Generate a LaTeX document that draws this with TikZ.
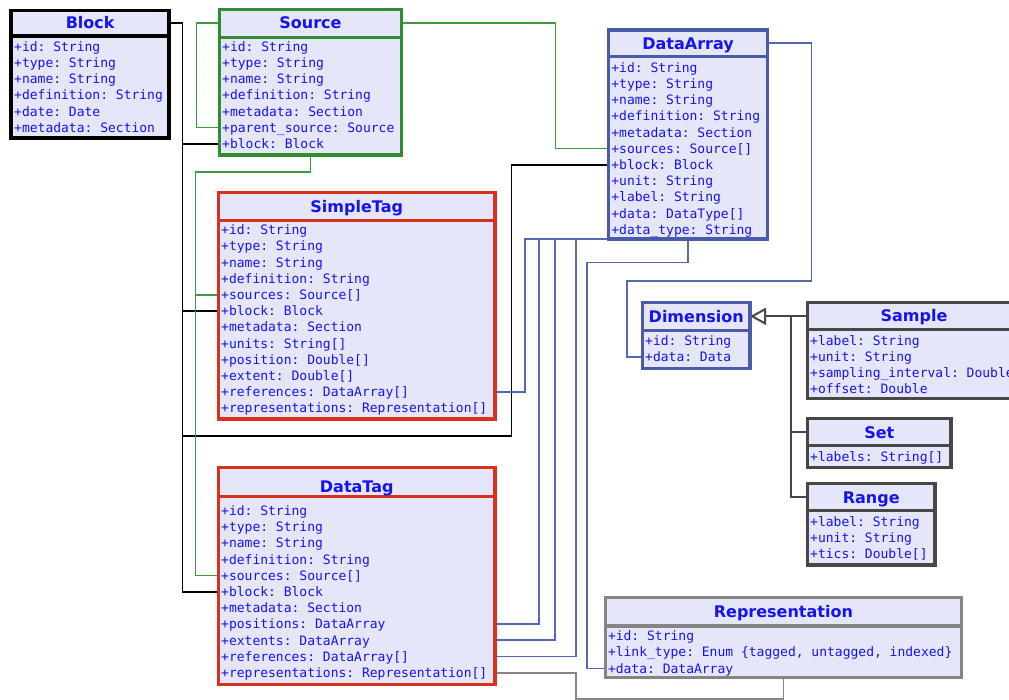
\documentclass[tikz,border=0pt]{standalone}
\usepackage{fontspec}
\setmainfont{DejaVu Sans}
\setsansfont{DejaVu Sans}
\setmonofont{DejaVu Sans Mono}
\usetikzlibrary{arrows.meta}
\usetikzlibrary{backgrounds}
\definecolor{boxfill}{HTML}{E6E6FA}
\definecolor{textblue}{HTML}{1414F0}
\definecolor{srcgreen}{HTML}{2F8F2F}
\definecolor{linkgreen}{HTML}{3C9C3C}
\definecolor{tagred}{HTML}{D9321C}
\definecolor{dablue}{HTML}{4A5CA8}
\definecolor{linkblue}{HTML}{5568B2}
\definecolor{dimgrey}{HTML}{474747}
\definecolor{repgrey}{HTML}{858585}

\begin{document}
\begin{tikzpicture}[x=1pt,y=-1pt,
  frame/.style={draw=#1,fill=boxfill,line width=3.2pt,anchor=north west,inner sep=0pt,outer sep=0pt},
  divider/.style={draw=#1,line width=3.2pt},
  title/.style={inner sep=0pt,text=textblue,font=\sffamily\bfseries\fontsize{16}{19}\selectfont,text height=11.7pt,text depth=0pt},
  attr/.style={anchor=base west,inner sep=0pt,text=textblue,font=\ttfamily\fontsize{13}{16}\selectfont,text height=9.5pt,text depth=0pt},
  link/.style={draw=#1,line width=1.7pt},
  gen/.style={draw=dimgrey,line width=2pt}]
\useasboundingbox (0,0) rectangle (1009,700);
\clip (0,0) rectangle (1009,700);

% Block
\node[frame=black,line width=3.8pt,minimum width=157.7pt,minimum height=127.5pt] (block) at (11.3,10.5) {};
\draw[divider=black,line width=3.8pt] ([yshift=-25.5pt]block.north west) -- ([yshift=-25.5pt]block.north east);
\node[title] (block-title) at (90.2,22.7) {Block};
\foreach \t [count=\i] in {+id: String,+type: String,+name: String,+definition: String,+date: Date,+metadata: Section}
  \node[attr] (block-\i) at (14,{51.4+(\i-1)*16.2}) {\t};

% Source
\node[frame=srcgreen,minimum width=182pt,minimum height=145.7pt] (src) at (219.5,9.3) {};
\draw[divider=srcgreen] ([yshift=-27.9pt]src.north west) -- ([yshift=-27.9pt]src.north east);
\node[title] (src-title) at (310.5,22.7) {Source};
\foreach \t [count=\i] in {+id: String,+type: String,+name: String,+definition: String,+metadata: Section,+parent\_source: Source,+block: Block}
  \node[attr] (src-\i) at (222,{51.4+(\i-1)*16.2}) {\t};

% DataArray
\node[frame=dablue,minimum width=158.8pt,minimum height=209pt] (da) at (608.7,30) {};
\draw[divider=dablue] ([yshift=-26.8pt]da.north west) -- ([yshift=-26.8pt]da.north east);
\node[title] (da-title) at (688.1,43.3) {DataArray};
\foreach \t [count=\i] in {+id: String,+type: String,+name: String,+definition: String,+metadata: Section,+sources: Source[],+block: Block,+unit: String,+label: String,+data: DataType[],+data\_type: String}
  \node[attr] (da-\i) at (611.2,{72.4+(\i-1)*16.2}) {\t};

% SimpleTag
\node[frame=tagred,minimum width=276.5pt,minimum height=226.7pt] (stag) at (218.5,192.3) {};
\draw[divider=tagred] ([yshift=-28.2pt]stag.north west) -- ([yshift=-28.2pt]stag.north east);
\node[title] (stag-title) at (356.75,206.7) {SimpleTag};
\foreach \t [count=\i] in {+id: String,+type: String,+name: String,+definition: String,+sources: Source[],+block: Block,+metadata: Section,+units: String[],+position: Double[],+extent: Double[],+references: DataArray[],+representations: Representation[]}
  \node[attr] (stag-\i) at (221,{234.75+(\i-1)*16.2}) {\t};

% DataTag
\node[frame=tagred,minimum width=276.5pt,minimum height=216.6pt] (dtag) at (218.5,467.7) {};
\draw[divider=tagred] ([yshift=-29.1pt]dtag.north west) -- ([yshift=-29.1pt]dtag.north east);
\node[title] (dtag-title) at (356.75,486.5) {DataTag};
\foreach \t [count=\i] in {+id: String,+type: String,+name: String,+definition: String,+sources: Source[],+block: Block,+metadata: Section,+positions: DataArray,+extents: DataArray,+references: DataArray[],+representations: Representation[]}
  \node[attr] (dtag-\i) at (221,{515.4+(\i-1)*16.2}) {\t};

% Dimension
\node[frame=dablue,minimum width=107.5pt,minimum height=65.6pt] (dim) at (642.5,302.7) {};
\draw[divider=dablue] ([yshift=-27.8pt]dim.north west) -- ([yshift=-27.8pt]dim.north east);
\node[title] (dim-title) at (696.25,316.3) {Dimension};
\foreach \t [count=\i] in {+id: String,+data: Data}
  \node[attr] (dim-\i) at (645,{345.75+(\i-1)*16.2}) {\t};

% Sample
\node[frame=dimgrey,line width=3.6pt,minimum width=213pt,minimum height=95.8pt] (smp) at (807.5,302.5) {};
\draw[divider=dimgrey,line width=3.6pt] ([yshift=-27pt]smp.north west) -- ([yshift=-27pt]smp.north east);
\node[title] (smp-title) at (914,315.5) {Sample};
\foreach \t [count=\i] in {+label: String,+unit: String,+sampling\_interval: Double,+offset: Double}
  \node[attr] (smp-\i) at (810,{345+(\i-1)*16.2}) {\t};

% Set
\node[frame=dimgrey,line width=3.6pt,minimum width=143.5pt,minimum height=49pt] (set) at (807.5,418.5) {};
\draw[divider=dimgrey,line width=3.6pt] ([yshift=-27pt]set.north west) -- ([yshift=-27pt]set.north east);
\node[title] (set-title) at (879.25,432.3) {Set};
\node[attr] (set-1) at (810,461.4) {+labels: String[]};

% Range
\node[frame=dimgrey,line width=3.6pt,minimum width=127.5pt,minimum height=81.5pt] (rng) at (807.5,483.5) {};
\draw[divider=dimgrey,line width=3.6pt] ([yshift=-27pt]rng.north west) -- ([yshift=-27pt]rng.north east);
\node[title] (rng-title) at (871.25,497.3) {Range};
\foreach \t [count=\i] in {+label: String,+unit: String,+tics: Double[]}
  \node[attr] (rng-\i) at (810,{526.4+(\i-1)*16.2}) {\t};

% Representation
\node[frame=repgrey,line width=3.6pt,minimum width=356.2pt,minimum height=80pt] (rep) at (605.3,597.5) {};
\draw[divider=repgrey,line width=3.6pt] ([yshift=-28.7pt]rep.north west) -- ([yshift=-28.7pt]rep.north east);
\node[title] (rep-title) at (783.4,611.5) {Representation};
\foreach \t [count=\i] in {+id: String,{+link\_type: Enum \{tagged, untagged, indexed\}},+data: DataArray}
  \node[attr] (rep-\i) at (607.8,{640.75+(\i-1)*16.2}) {\t};

\begin{scope}[on background layer]
\fill[white] (0,0) rectangle (1009,700);
% block links
\coordinate (bbus) at (182.5,22.7);
\draw[link=black] (block-title -| block.east) -- (bbus) |- (src-7 -| src.west);
\draw[link=black] (bbus) |- (stag-6 -| stag.west);
\draw[link=black] (bbus) |- (dtag-6 -| dtag.west);
\draw[link=black] (bbus) |- (511.5,436) |- (da-7 -| da.west);
% source links
\draw[link=linkgreen] (src-title -| src.west) -- ++(-23,0) |- (src-6 -| src.west);
\coordinate (sbus) at (555.5,22.7);
\draw[link=linkgreen] (src-title -| src.east) -- (sbus) |- (da-6 -| da.west);
\coordinate (gbus) at (195.5,172.3);
\draw[link=linkgreen] (src.south) |- (gbus) |- (stag-5 -| stag.west);
\draw[link=linkgreen] (gbus) |- (dtag-5 -| dtag.west);
% data array links
\draw[link=linkblue] (stag-11 -| stag.east) -| ([xshift=-84pt]da.south west) -- (da.south west);
\draw[link=linkblue] (dtag-8 -| dtag.east) -| ([xshift=-70pt]da.south west);
\draw[link=linkblue] (dtag-9 -| dtag.east) -| ([xshift=-53.5pt]da.south west);
\draw[link=linkblue] (dtag-10 -| dtag.east) -| ([xshift=-33pt]da.south west);
\coordinate (rbus) at (586.7,262.5);
\draw[link=linkblue] (da.south) |- (rbus) |- (rep-3 -| rep.west);
\coordinate (dbus) at (811.5,280.7);
\coordinate (dbus2) at (627,280.7);
\draw[link=linkblue] (da-title -| da.east) -| (dbus) -- (dbus2) |- (dim-2 -| dim.west);
% representation link
\coordinate (gbot) at (576,699);
\draw[link=repgrey] (dtag-11 -| dtag.east) -| (gbot) -| (rep.south);
% generalisation
\coordinate (trunk) at (791,316.3);
\draw[gen,-{Triangle[open,length=16pt,width=17pt]}] (smp.west |- trunk) -- (dim.east |- trunk);
\draw[gen] (trunk) |- (set-title -| set.west);
\draw[gen] (trunk) |- (rng-title -| rng.west);
\end{scope}
\end{tikzpicture}
\end{document}
